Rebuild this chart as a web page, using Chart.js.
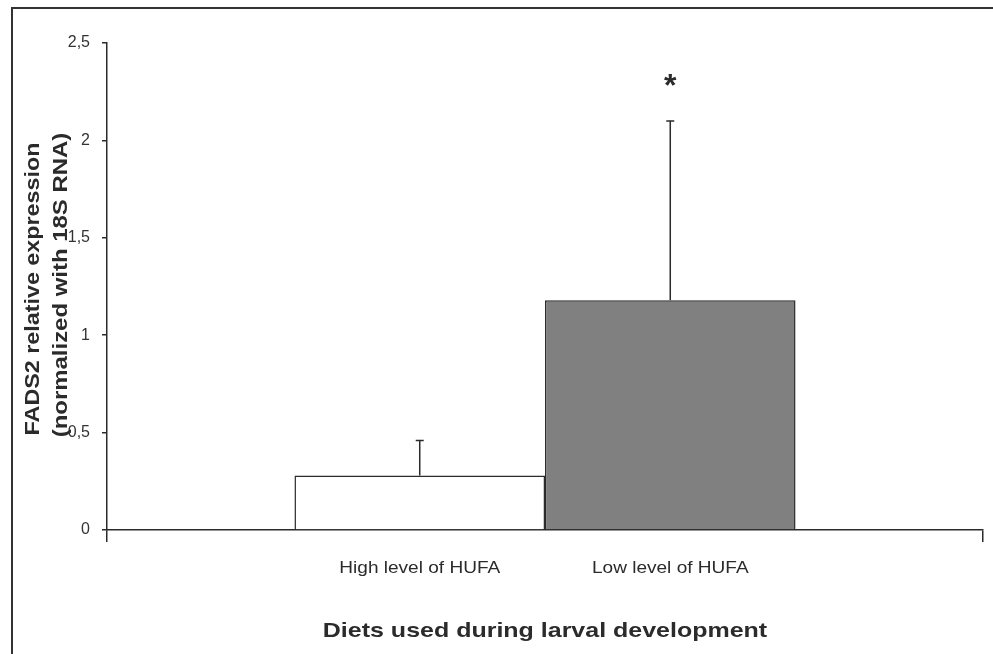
<!DOCTYPE html>
<html lang="en">
<head>
<meta charset="UTF-8"/>
<title>FADS2 relative expression</title>
<script src="https://cdn.jsdelivr.net/npm/chart.js"></script>
<style>
 body{margin:0;background:#fff}
 #wrap{width:993px;height:654px}
</style>
</head>
<body>
<div id="wrap"><canvas id="chart" width="993" height="654"></canvas></div>
<script>
const diets = ['High level of HUFA', 'Low level of HUFA'];
const expression = [0.28, 1.18];
const errorUp = [0.18, 0.92];
const significance = ['', '*'];
const yTicks = [0, 0.5, 1, 1.5, 2, 2.5];
const barColors = ['#ffffff', '#808080'];

const ink = '#2b2b2b';
const face = 'Arial, "Liberation Sans", sans-serif';

// the original is a stretched scan, so text gets a horizontal scale factor
function stretchText(ctx, txt, x, y, size, weight, sx, rot) {
  ctx.save();
  ctx.translate(x, y);
  if (rot) ctx.rotate(rot);
  ctx.scale(sx, 1);
  ctx.font = weight + ' ' + size + 'px ' + face;
  ctx.fillStyle = ink;
  ctx.textAlign = 'center';
  ctx.textBaseline = 'middle';
  ctx.fillText(txt, 0, 0);
  ctx.restore();
}

const extras = {
  id: 'extras',
  beforeDraw(chart) {
    const c = chart.ctx;
    c.save();
    c.fillStyle = '#fff';
    c.fillRect(0, 0, chart.width, chart.height);
    c.strokeStyle = '#333';
    c.lineWidth = 2;
    c.strokeRect(12, 8, chart.width + 20, chart.height + 20);
    c.restore();
  },
  afterDatasetsDraw(chart) {
    const c = chart.ctx, y = chart.scales.y, area = chart.chartArea;
    chart.data.datasets.forEach((ds, i) => {
      const bar = chart.getDatasetMeta(i).data[0];
      const top = y.getPixelForValue(expression[i]);
      const tip = y.getPixelForValue(expression[i] + errorUp[i]);
      c.save();
      c.strokeStyle = ink;
      c.lineWidth = 1.5;
      c.beginPath();
      c.moveTo(bar.x, top); c.lineTo(bar.x, tip);
      c.moveTo(bar.x - 4, tip); c.lineTo(bar.x + 4, tip);
      c.stroke();
      c.restore();
      if (significance[i]) stretchText(c, significance[i], bar.x, tip - 34, 32, 'bold', 1, 0);
      stretchText(c, diets[i], bar.x, area.bottom + 38, 17, 'normal', 1.12, 0);
    });
    stretchText(c, 'Diets used during larval development', (area.left + area.right) / 2, 631, 21, 'bold', 1.19, 0);
    stretchText(c, 'FADS2 relative expression', 33, 289, 21, 'bold', 1.11, -Math.PI / 2);
    stretchText(c, '(normalized with 18S RNA)', 61, 285, 21, 'bold', 1.14, -Math.PI / 2);
  }
};

new Chart(document.getElementById('chart'), {
  type: 'bar',
  data: {
    labels: [''],
    datasets: diets.map((d, i) => ({
      label: d,
      data: [expression[i]],
      backgroundColor: barColors[i],
      borderColor: ink,
      borderWidth: 1.5,
      categoryPercentage: 0.572,
      barPercentage: 1
    }))
  },
  options: {
    responsive: false,
    animation: false,
    layout: {padding: {top: 43, right: 10, left: 0, bottom: 0}},
    plugins: {legend: {display: false}, tooltip: {enabled: false}},
    scales: {
      x: {
        afterFit: s => { s.height = 124; },
        grid: {drawOnChartArea: false, offset: true, tickLength: 12, color: ink, lineWidth: 1.5},
        border: {color: ink, width: 1.5},
        ticks: {display: false}
      },
      y: {
        min: 0, max: 2.5,
        afterFit: s => { s.width = 107; },
        afterBuildTicks: s => { s.ticks = yTicks.map(v => ({value: v})); },
        grid: {drawOnChartArea: false, tickLength: 5, color: ink, lineWidth: 1.5},
        border: {color: ink, width: 1.5},
        ticks: {
          padding: 12,
          color: '#333',
          font: {family: face, size: 16},
          callback: v => String(v).replace('.', ',')
        }
      }
    }
  },
  plugins: [extras]
});
</script>
</body>
</html>
